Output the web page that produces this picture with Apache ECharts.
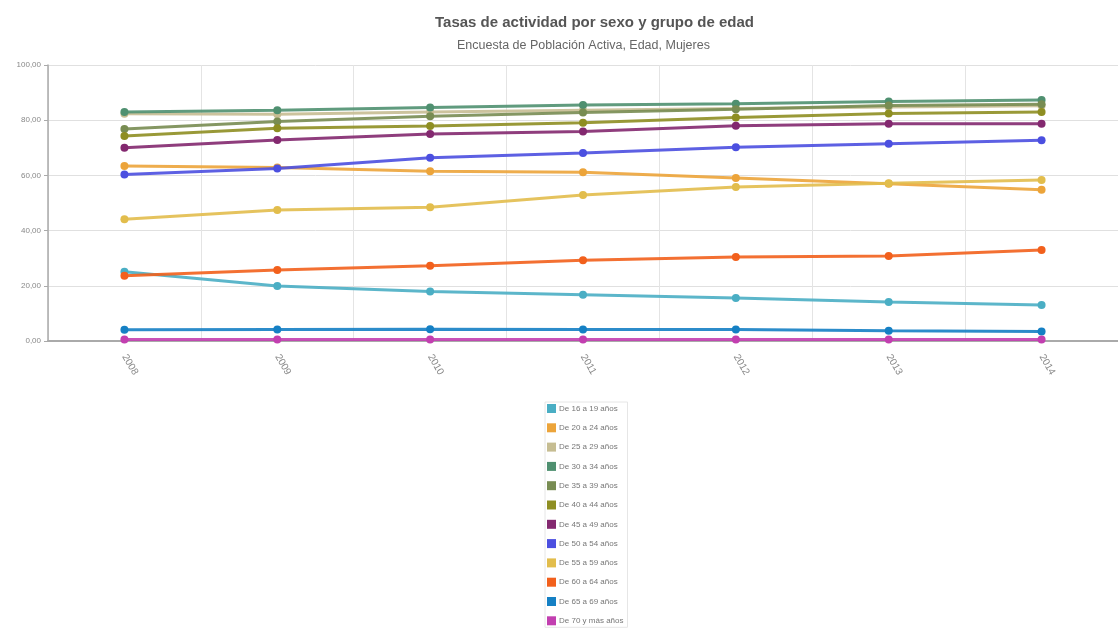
<!DOCTYPE html>
<html><head><meta charset="utf-8">
<script src="https://cdn.jsdelivr.net/npm/echarts@6/dist/echarts.min.js"></script>
<style>html,body{margin:0;padding:0;background:#fff}#c{width:1118px;height:628px}</style>
</head><body><div id="c"></div>
<script>
var years = ['2008','2009','2010','2011','2012','2013','2014'];
var yTicks = [0,20,40,60,80,100];
var names = ['De 16 a 19 años','De 20 a 24 años','De 25 a 29 años','De 30 a 34 años','De 35 a 39 años','De 40 a 44 años','De 45 a 49 años','De 50 a 54 años','De 55 a 59 años','De 60 a 64 años','De 65 a 69 años','De 70 y más años'];
var colors = ['#4aaec4','#eca43a','#c6bd92','#4f9070','#788c52','#8e8e22','#83286f','#4b4fe0','#e2bd4c','#f2601c','#1580c4','#c23fb0'];
var v16_19 = [25.1, 19.9, 17.9, 16.8, 15.6, 14.1, 13.0];
var v20_24 = [63.4, 62.9, 61.5, 61.1, 59.1, 57.0, 54.8];
var v25_29 = [82.3, 82.2, 83.0, 83.6, 84.2, 84.8, 85.2];
var v30_34 = [83.0, 83.6, 84.6, 85.5, 86.0, 86.8, 87.3];
var v35_39 = [76.8, 79.5, 81.4, 82.8, 84.0, 85.3, 85.8];
var v40_44 = [74.3, 77.1, 77.9, 79.1, 81.0, 82.4, 83.0];
var v45_49 = [70.0, 72.8, 75.0, 75.9, 78.0, 78.7, 78.7];
var v50_54 = [60.3, 62.5, 66.4, 68.1, 70.2, 71.5, 72.7];
var v55_59 = [44.1, 47.5, 48.5, 52.9, 55.8, 57.2, 58.3];
var v60_64 = [23.6, 25.7, 27.3, 29.3, 30.4, 30.8, 33.0];
var v65_69 = [4.1, 4.2, 4.3, 4.2, 4.2, 3.7, 3.4];
var v70 = [0.5, 0.5, 0.5, 0.5, 0.5, 0.5, 0.5];
var values = [v16_19,v20_24,v25_29,v30_34,v35_39,v40_44,v45_49,v50_54,v55_59,v60_64,v65_69,v70];

var series = names.map(function(n,i){
  return {name:n,type:'line',data:values[i],symbol:'circle',symbolSize:8,
    lineStyle:{width:3,color:colors[i],opacity:0.9},itemStyle:{color:colors[i]},z:2+i};
});
var chart = echarts.init(document.getElementById('c'));
chart.setOption({
  animation:false,
  color:colors,
  title:[
    {text:'Tasas de actividad por sexo y grupo de edad',left:430,top:10,textStyle:{fontFamily:'Liberation Sans',fontSize:15,fontWeight:'bold',color:'#555'}},
    {text:'Encuesta de Población Activa, Edad, Mujeres',left:452,top:34,textStyle:{fontFamily:'Liberation Sans',fontSize:12.5,fontWeight:'normal',color:'#666'}}
  ],
  grid:{left:48,top:65,right:-11,height:276,containLabel:false},
  legend:{orient:'vertical',left:545,top:402,itemWidth:9,itemHeight:9,itemGap:10.3,icon:'rect',
    textStyle:{fontFamily:'Liberation Sans',fontSize:8,color:'#777',padding:[0,0,0,-2]},
    borderColor:'#e6e6e6',borderWidth:1,padding:[2,4,2,2],data:names},
  xAxis:{type:'category',data:years,boundaryGap:true,
    axisLine:{lineStyle:{color:'#aaa',width:2}},axisTick:{show:false},
    splitLine:{show:true,lineStyle:{color:'#e4e4e4'}},
    axisLabel:{rotate:-60,color:'#888',fontSize:10,fontFamily:'Liberation Sans',margin:14}},
  yAxis:{type:'value',min:0,max:100,interval:20,
    axisLine:{show:true,lineStyle:{color:'#aaa',width:1.5}},
    axisTick:{show:true,length:4,lineStyle:{color:'#aaa'}},
    splitLine:{lineStyle:{color:'#e0e0e0'}},
    axisLabel:{color:'#888',fontSize:8,fontFamily:'Liberation Sans',margin:7,
      formatter:function(v){return v.toFixed(2).replace('.',',');}}},
  series:series
});
</script></body></html>
